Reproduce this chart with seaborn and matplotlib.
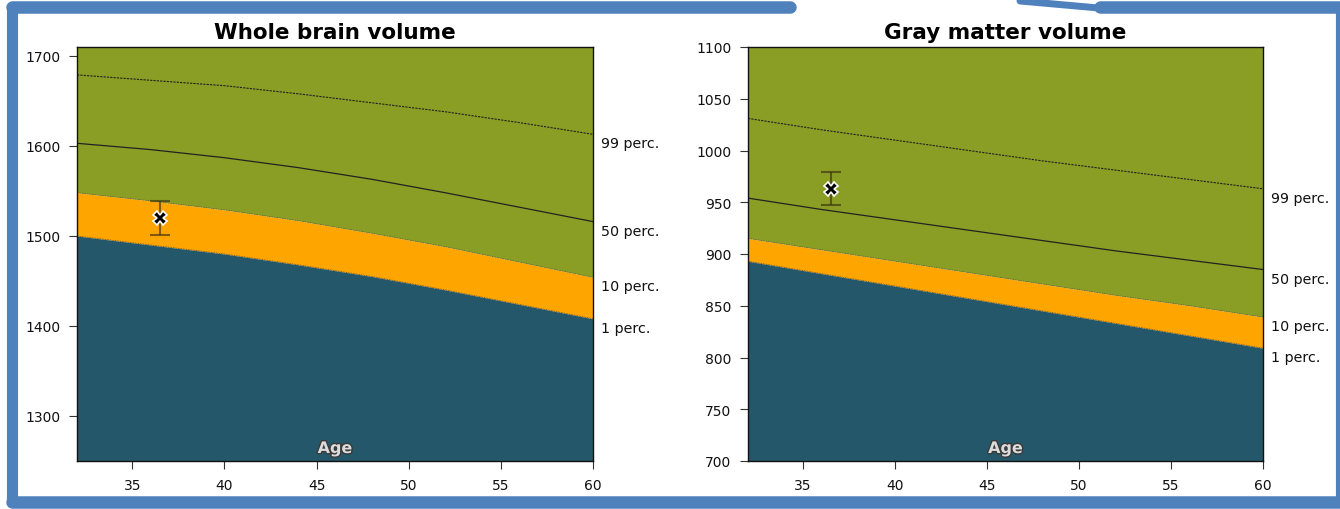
import matplotlib
matplotlib.use("Agg")
import matplotlib.pyplot as plt
import matplotlib.patheffects as pe
from matplotlib.lines import Line2D
import numpy as np
import pandas as pd
import seaborn as sns

# Normative percentile curves by age
ages = [32, 36, 40, 44, 48, 52, 56, 60]

wb_p99 = [1679, 1673, 1667, 1658, 1648, 1638, 1626, 1613]
wb_p50 = [1603, 1596, 1587, 1576, 1563, 1548, 1532, 1516]
wb_p10 = [1548, 1539, 1529, 1517, 1503, 1488, 1471, 1454]
wb_p01 = [1500, 1490, 1480, 1468, 1455, 1440, 1424, 1408]

gm_p99 = [1031, 1020, 1010, 1000, 990, 981, 972, 963]
gm_p50 = [954, 943, 933, 923, 913, 903, 894, 885]
gm_p10 = [915, 904, 893, 882, 871, 860, 850, 839]
gm_p01 = [893, 881, 869, 857, 845, 833, 821, 809]

# Subject measurement (age, value, lower, upper)
subject_age = 36.5
wb_value, wb_low, wb_high = 1520, 1501, 1539
gm_value, gm_low, gm_high = 963, 947, 979

titles = ["Whole brain volume", "Gray matter volume"]
perc_labels = ["99 perc.", "50 perc.", "10 perc.", "1 perc."]

GREEN = "#8a9d25"
ORANGE = "#ffa500"
BLUE = "#25576a"

sns.set_theme(style="ticks")
plt.rcParams["font.family"] = ["DejaVu Sans"]

fig = plt.figure(figsize=(13.4, 5.1), dpi=100)
ax_wb = fig.add_axes([77 / 1340, 48 / 510, 516 / 1340, 414 / 510])
ax_gm = fig.add_axes([748 / 1340, 48 / 510, 515 / 1340, 414 / 510])


def draw_panel(ax, title, p99, p50, p10, p01, ylim, yticks, val, lo, hi):
    df = pd.DataFrame({"age": ages, "p99": p99, "p50": p50, "p10": p10, "p01": p01})
    ymin, ymax = ylim
    ax.set_xlim(32, 60)
    ax.set_ylim(ymin, ymax)
    ax.fill_between(df["age"], df["p10"], ymax, color=GREEN, lw=0, zorder=1)
    ax.fill_between(df["age"], df["p01"], df["p10"], color=ORANGE, lw=0, zorder=1)
    ax.fill_between(df["age"], ymin, df["p01"], color=BLUE, lw=0, zorder=1)
    sns.lineplot(data=df, x="age", y="p99", ax=ax, color="#222222", lw=0.8,
                 linestyle=(0, (2, 1)), zorder=2)
    sns.lineplot(data=df, x="age", y="p50", ax=ax, color="#222222", lw=0.9, zorder=2)
    sns.lineplot(data=df, x="age", y="p10", ax=ax, color="#444444", lw=0.6,
                 linestyle=(0, (1, 1)), alpha=0.7, zorder=2)
    sns.lineplot(data=df, x="age", y="p01", ax=ax, color="#222222", lw=0.6,
                 linestyle=(0, (1, 1)), alpha=0.7, zorder=2)

    for lab, col in zip(perc_labels, ["p99", "p50", "p10", "p01"]):
        ax.annotate(lab, xy=(1, df[col].iloc[-1]), xycoords=("axes fraction", "data"),
                    xytext=(6, -6.5), textcoords="offset points", va="center",
                    ha="left", fontsize=10.3, color="#111111", annotation_clip=False)

    ax.errorbar([subject_age], [val], yerr=[[val - lo], [hi - val]], fmt="none",
                ecolor="#3a3210", elinewidth=1.5, capsize=7, capthick=1.5,
                alpha=0.65, zorder=3)
    ax.plot([subject_age], [val], marker="X", ms=10, color="black",
            markeredgecolor="white", markeredgewidth=1.2, zorder=4)

    ax.set_title(title, fontsize=15.5, fontweight="bold", pad=6.5, color="black")
    ax.set_xlabel("")
    ax.set_ylabel("")
    ax.set_xticks([35, 40, 45, 50, 55, 60])
    ax.set_yticks(yticks)
    ax.tick_params(labelsize=10, length=6, pad=6, width=0.8, color="#333333",
                   labelcolor="#111111")
    ax.text(0.5, 0.012, "Age", transform=ax.transAxes, ha="center", va="bottom",
            fontsize=11.5, fontweight="bold", color="#dcdcdc",
            path_effects=[pe.withStroke(linewidth=2, foreground="#3a3a3a")], zorder=5)
    for sp in ax.spines.values():
        sp.set_visible(True)
        sp.set_color("#111111")
        sp.set_linewidth(1.0)
        sp.set_zorder(6)


draw_panel(ax_wb, titles[0], wb_p99, wb_p50, wb_p10, wb_p01, (1250, 1710),
           [1300, 1400, 1500, 1600, 1700], wb_value, wb_low, wb_high)
draw_panel(ax_gm, titles[1], gm_p99, gm_p50, gm_p10, gm_p01, (700, 1100),
           [700, 750, 800, 850, 900, 950, 1000, 1050, 1100], gm_value, gm_low, gm_high)

# Surrounding panel frame
FRAME = "#4f81bd"
W, H = 1340.0, 510.0


def seg(x0, y0, x1, y1, lw):
    fig.add_artist(Line2D([x0 / W, x1 / W], [1 - y0 / H, 1 - y1 / H],
                          color=FRAME, lw=lw, solid_capstyle="round",
                          transform=fig.transFigure))


seg(12, 8, 12, 503, 8)
seg(12, 503, 1340, 503, 9)
seg(12, 8, 790, 8, 9)
seg(1100, 8, 1340, 8, 9)
seg(1338, 8, 1338, 503, 3)
seg(1020, 2, 1110, 10, 5)

fig.savefig("out.png", dpi=100)
